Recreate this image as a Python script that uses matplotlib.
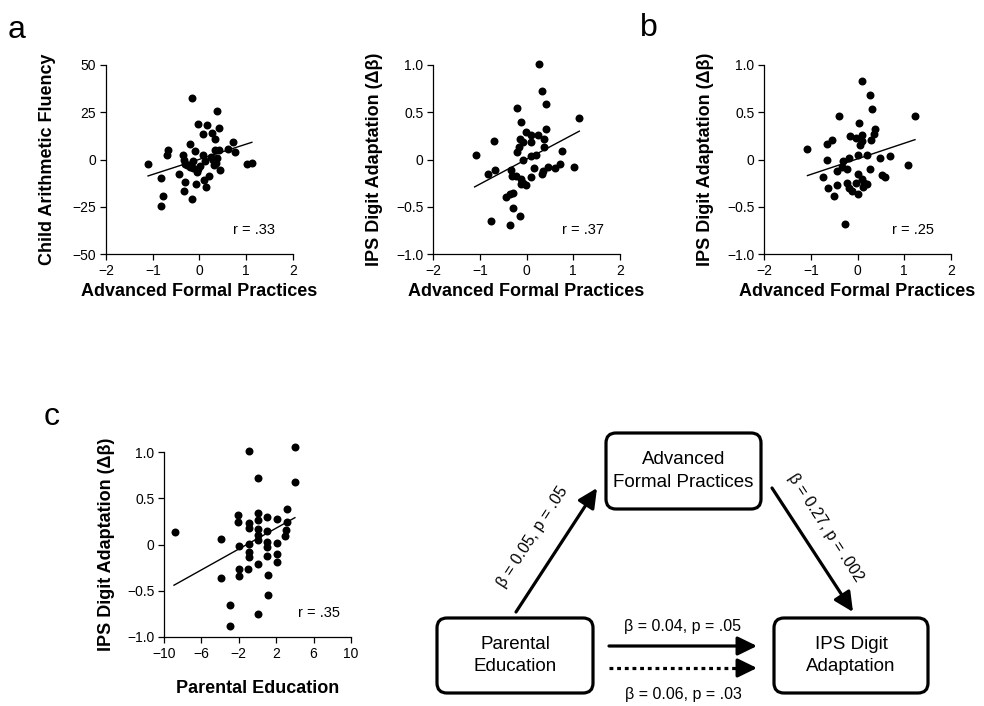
import matplotlib
matplotlib.use('Agg')
import matplotlib.pyplot as plt
from matplotlib.patches import FancyBboxPatch

plt.rcParams['font.family'] = ['Liberation Sans', 'DejaVu Sans']

# panel a, left: practices vs arithmetic fluency
a1_x = [-1.10, -0.83, -0.78, -0.82, -0.67, -0.70, -0.43, -0.35, -0.33, -0.30, -0.31, -0.34,
        -0.17, -0.20, -0.22, -0.14, -0.13, -0.10, -0.15, -0.08, -0.03, -0.03, -0.05, 0.08,
        0.08, 0.09, 0.13, 0.15, 0.20, 0.24, 0.26, 0.33, 0.37, 0.33, 0.38, 0.36, 0.42, 0.42,
        0.43, 0.60, 0.71, 0.76, 1.02, 1.13, 0.28, 0.30, -0.27, 0.12, -0.20, 0.02]
a1_y = [-2.6, -10.0, -19.1, -24.4, 5.0, 2.4, -7.5, 2.2, -0.3, -2.4, -12.1, -16.7,
        32.5, 8.3, -2.9, -0.6, -4.7, 4.4, -21.1, -13.1, 18.8, -5.2, -6.5, 13.5,
        2.6, -10.8, -14.7, 18.1, -8.6, 1.5, 13.9, 10.7, 25.7, 5.0, 0.8, -1.7, 16.5, 5.2,
        -5.7, 5.3, 9.4, 4.1, -2.4, -1.6, -0.3, -2.9, -2.9, -1.0, -4.0, -3.5]
a1_fit_x = [-1.10, 1.12]
a1_fit_y = [-8.7, 9.1]

# panel a, right: practices vs IPS digit adaptation
a2_x = [0.27, 0.34, 0.42, -0.20, 1.13, -0.12, 0.42, -0.01, 0.10, 0.25, -0.14, 0.38,
        -0.69, 0.09, -0.08, -0.16, 0.37, -0.20, -1.09, 0.20, 0.10, 0.77, -0.07, 0.16,
        0.45, 0.35, 0.33, 0.60, 0.72, 1.02, -0.67, -0.82, -0.34, -0.32, -0.22, -0.12,
        -0.08, -0.02, 0.10, -0.12, -0.28, -0.35, -0.44, -0.29, -0.13, -0.77, -0.35]
a2_y = [1.01, 0.73, 0.59, 0.54, 0.44, 0.40, 0.32, 0.29, 0.26, 0.26, 0.22, 0.22,
        0.20, 0.19, 0.18, 0.13, 0.13, 0.08, 0.05, 0.05, 0.04, 0.09, 0.00, -0.09,
        -0.08, -0.12, -0.15, -0.09, -0.05, -0.08, -0.11, -0.15, -0.11, -0.17, -0.17, -0.21,
        -0.25, -0.27, -0.19, -0.26, -0.35, -0.37, -0.40, -0.51, -0.60, -0.65, -0.69]
a2_fit_x = [-1.11, 1.13]
a2_fit_y = [-0.29, 0.30]

# panel b: practices vs IPS digit adaptation (second model)
b_x = [0.09, 0.27, 0.30, -0.39, 1.22, 0.03, 0.37, 0.35, -0.16, 0.09, -0.04, 0.28,
       0.09, -0.54, -0.66, 0.05, -1.09, 0.00, 0.20, 0.48, 0.70, -0.18, -0.30, -0.65,
       -0.34, -0.23, -0.43, 1.09, 0.26, 0.52, 0.59, -0.74, 0.00, 0.09, 0.14, -0.03,
       -0.23, 0.20, -0.44, 0.12, -0.64, -0.19, -0.12, 0.01, -0.50, -0.27]
b_y = [0.83, 0.68, 0.53, 0.46, 0.46, 0.39, 0.32, 0.27, 0.25, 0.26, 0.23, 0.21,
       0.20, 0.21, 0.16, 0.15, 0.11, 0.05, 0.05, 0.02, 0.04, 0.02, -0.02, -0.01,
       -0.08, -0.10, -0.12, -0.06, -0.10, -0.16, -0.18, -0.18, -0.15, -0.21, -0.25, -0.25,
       -0.25, -0.26, -0.27, -0.29, -0.30, -0.30, -0.33, -0.36, -0.39, -0.68]
b_fit_x = [-1.07, 1.23]
b_fit_y = [-0.17, 0.21]

# panel c: parental education vs IPS digit adaptation
c_x = [-0.91, 4.01, 0.09, 4.01, 3.12, -2.05, 0.09, 0.98, 2.05, -0.91, -2.05, 0.09,
       3.12, -0.91, 0.00, 0.98, 3.05, 0.00, 2.94, -8.86, -3.94, 0.09, 0.98, 2.12,
       -1.98, -0.91, -0.91, -0.91, 1.05, 1.05, 2.12, 2.12, -1.98, -1.98, -0.98, 0.09,
       -3.94, 1.09, 1.09, -2.94, 0.09, -2.94]
c_y = [1.01, 1.05, 0.72, 0.68, 0.38, 0.32, 0.34, 0.30, 0.28, 0.23, 0.24, 0.27,
       0.24, 0.18, 0.17, 0.15, 0.16, 0.10, 0.09, 0.14, 0.06, 0.05, 0.03, 0.02,
       -0.02, 0.01, -0.08, -0.14, -0.03, -0.12, -0.10, -0.19, -0.26, -0.34, -0.27, -0.21,
       -0.36, -0.33, -0.55, -0.65, -0.75, -0.88]
c_fit_x = [-8.93, 4.0]
c_fit_y = [-0.44, 0.29]

r_labels = ['r = .33', 'r = .37', 'r = .25', 'r = .35']

W, H = 984, 706
fig = plt.figure(figsize=(W / 100, H / 100), dpi=100)


def px_axes(left, top, width, height):
    return fig.add_axes([left / W, 1 - (top + height) / H, width / W, height / H])


def scatter_panel(ax, x, y, fx, fy, xlim, ylim, xticks, yticks, yticklabels,
                  xlabel, ylabel, rtext, rpos, ylab_x, xlab_y):
    ax.scatter(x, y, s=33, color='black', linewidths=0, zorder=3, clip_on=False)
    ax.plot(fx, fy, color='black', lw=1)
    ax.set_xlim(xlim)
    ax.set_ylim(ylim)
    ax.set_xticks(xticks)
    ax.set_xticklabels([str(t).replace('-', '\u2212') for t in xticks])
    ax.set_yticks(yticks)
    ax.set_yticklabels(yticklabels)
    for s in ['top', 'right']:
        ax.spines[s].set_visible(False)
    for s in ['left', 'bottom']:
        ax.spines[s].set_linewidth(0.9)
    ax.tick_params(direction='out', length=4, width=0.9, labelsize=10, pad=3)
    ax.set_xlabel(xlabel, fontsize=13, fontweight='bold')
    ax.set_ylabel(ylabel, fontsize=13, fontweight='bold')
    ax.yaxis.set_label_coords(ylab_x, 0.5)
    ax.xaxis.set_label_coords(0.5, xlab_y)
    ax.text(rpos[0], rpos[1], rtext, transform=ax.transAxes, fontsize=10.5,
            ha='left', va='center')


ax1 = px_axes(106, 65, 187, 189)
scatter_panel(ax1, a1_x, a1_y, a1_fit_x, a1_fit_y, (-2, 2), (-50, 50),
              [-2, -1, 0, 1, 2], [-50, -25, 0, 25, 50],
              ['\u221250', '\u221225', '0', '25', '50'],
              'Advanced Formal Practices', 'Child Arithmetic Fluency',
              r_labels[0], (0.68, 0.127), -0.27, -0.155)

ylab_beta = 'IPS Digit Adaptation (\u0394\u03b2)'
beta_ticks = [-1.0, -0.5, 0, 0.5, 1.0]
beta_labels = ['\u22121.0', '\u22120.5', '0', '0.5', '1.0']

ax2 = px_axes(433, 65, 187, 189)
scatter_panel(ax2, a2_x, a2_y, a2_fit_x, a2_fit_y, (-2, 2), (-1, 1),
              [-2, -1, 0, 1, 2], beta_ticks, beta_labels,
              'Advanced Formal Practices', ylab_beta,
              r_labels[1], (0.69, 0.127), -0.27, -0.155)

ax3 = px_axes(764, 65, 187, 189)
scatter_panel(ax3, b_x, b_y, b_fit_x, b_fit_y, (-2, 2), (-1, 1),
              [-2, -1, 0, 1, 2], beta_ticks, beta_labels,
              'Advanced Formal Practices', ylab_beta,
              r_labels[2], (0.683, 0.127), -0.27, -0.155)

ax4 = px_axes(164, 452, 187, 185)
scatter_panel(ax4, c_x, c_y, c_fit_x, c_fit_y, (-10, 10), (-1, 1),
              [-10, -6, -2, 2, 6, 10], beta_ticks, beta_labels,
              'Parental Education', ylab_beta,
              r_labels[3], (0.717, 0.13), -0.26, -0.23)

# overlay in pixel coordinates for panel letters and the path diagram
ov = fig.add_axes([0, 0, 1, 1])
ov.set_xlim(0, W)
ov.set_ylim(H, 0)
ov.axis('off')

ov.text(8, 38, 'a', fontsize=23, ha='left', va='baseline')
ov.text(640, 36, 'b', fontsize=23, ha='left', va='baseline')
ov.text(44, 425, 'c', fontsize=23, ha='left', va='baseline')

boxes = [
    (606, 433, 155, 76, 'Advanced\nFormal Practices'),
    (437, 618, 156, 75, 'Parental\nEducation'),
    (774, 618, 154, 75, 'IPS Digit\nAdaptation'),
]
for bx, by, bw, bh, label in boxes:
    ov.add_patch(FancyBboxPatch((bx, by), bw, bh, boxstyle='round,pad=0,rounding_size=10',
                                fc='white', ec='black', lw=2.3))
    ov.text(bx + bw / 2, by + bh / 2, label, fontsize=13.5, ha='center', va='center',
            linespacing=1.4)

head = '-|>,head_length=0.45,head_width=0.22'
arrow_kw = dict(arrowstyle=head, lw=2.3, color='black', mutation_scale=26,
                shrinkA=0, shrinkB=0)
ov.annotate('', xy=(597, 488), xytext=(516, 612), arrowprops=arrow_kw)
ov.annotate('', xy=(853, 612), xytext=(772, 488), arrowprops=arrow_kw)
ov.annotate('', xy=(757, 646), xytext=(609, 646), arrowprops=arrow_kw)
# dotted direct path: dotted shaft + solid head
ov.plot([609, 745], [668, 668], color='black', lw=2.3, linestyle=(0, (1.2, 1.2)))
ov.annotate('', xy=(757, 668), xytext=(744, 668), arrowprops=arrow_kw)

ov.text(533, 537, '\u03b2 = 0.05, p = .05', fontsize=11.5, rotation=57,
        ha='center', va='center', rotation_mode='anchor')
ov.text(825, 528, '\u03b2 = 0.27, p = .002', fontsize=11.5, rotation=-57,
        ha='center', va='center', rotation_mode='anchor')
ov.text(683, 627, '\u03b2 = 0.04, p = .05', fontsize=11.5, ha='center', va='center')
ov.text(683, 695, '\u03b2 = 0.06, p = .03', fontsize=11.5, ha='center', va='center')

fig.savefig('out.png', dpi=100)
